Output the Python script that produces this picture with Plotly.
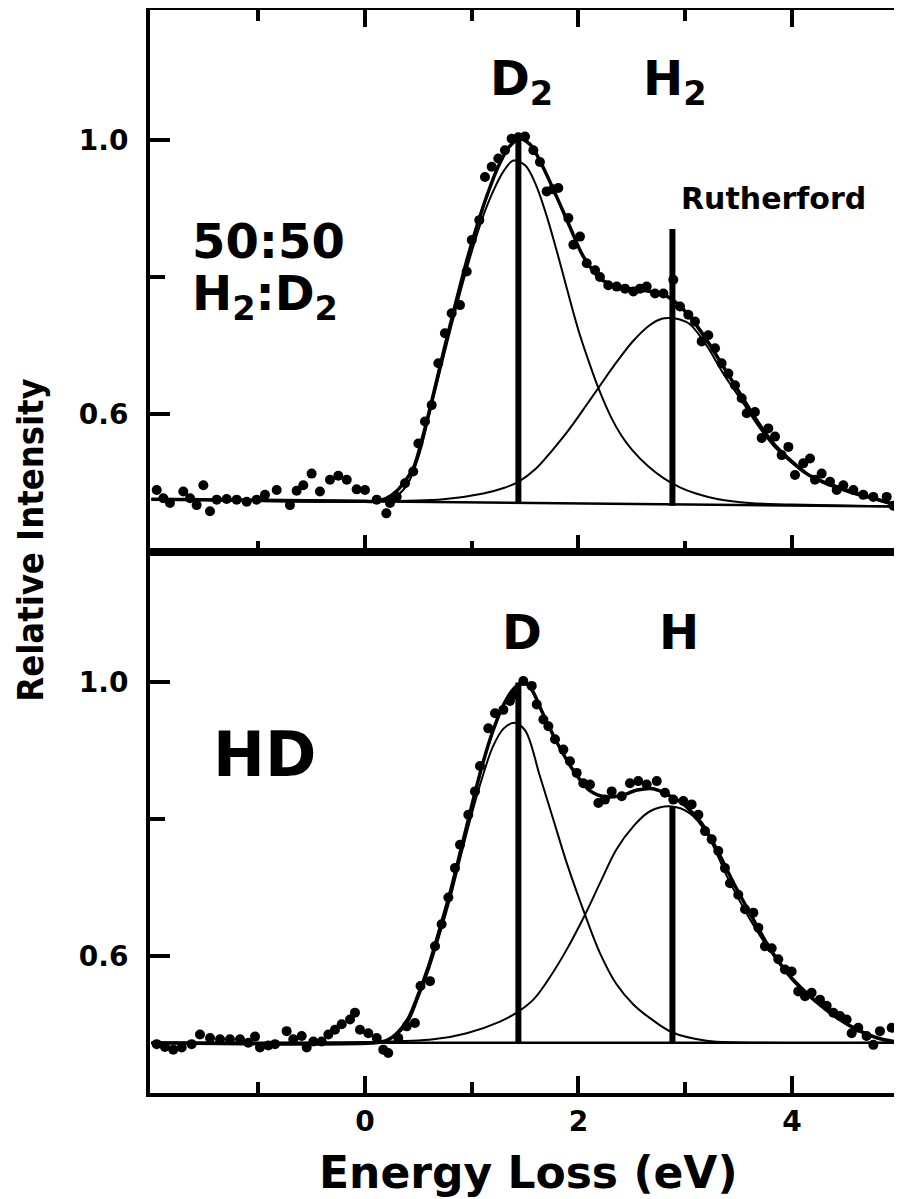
import plotly.graph_objects as go

# ---------------- data ----------------
# Top panel: 50:50 H2:D2
top_x = [-1.951, -1.889, -1.827, -1.702, -1.639, -1.577, -1.514, -1.452, -1.389, -1.296,
         -1.202, -1.108, -1.015, -0.937, -0.827, -0.703, -0.640, -0.578, -0.500, -0.422,
         -0.328, -0.250, -0.171, -0.078, 0.000, 0.110, 0.200, 0.234, 0.297, 0.375,
         0.452, 0.500, 0.562, 0.625, 0.687, 0.749, 0.812, 0.890, 0.953, 1.000,
         1.071, 1.124, 1.187, 1.249, 1.311, 1.374, 1.437, 1.499, 1.577, 1.639,
         1.702, 1.760, 1.811, 1.905, 1.952, 2.014, 2.077, 2.155, 2.201, 2.279,
         2.358, 2.436, 2.514, 2.576, 2.639, 2.717, 2.795, 2.888, 2.951, 3.029,
         3.091, 3.154, 3.216, 3.279, 3.341, 3.404, 3.466, 3.529, 3.576, 3.653,
         3.716, 3.778, 3.841, 3.903, 3.966, 4.028, 4.106, 4.169, 4.215, 4.278,
         4.356, 4.419, 4.481, 4.575, 4.668, 4.762, 4.887, 4.950]
top_y = [0.489, 0.477, 0.470, 0.487, 0.477, 0.467, 0.496, 0.458, 0.475, 0.476,
         0.475, 0.472, 0.475, 0.482, 0.489, 0.467, 0.488, 0.496, 0.513, 0.487,
         0.504, 0.510, 0.504, 0.490, 0.489, 0.475, 0.455, 0.470, 0.479, 0.499,
         0.516, 0.557, 0.589, 0.613, 0.674, 0.718, 0.747, 0.759, 0.808, 0.854,
         0.883, 0.946, 0.961, 0.973, 0.985, 1.002, 1.004, 1.005, 0.985, 0.968,
         0.925, 0.928, 0.930, 0.886, 0.847, 0.859, 0.820, 0.810, 0.800, 0.788,
         0.786, 0.783, 0.779, 0.783, 0.786, 0.776, 0.776, 0.796, 0.757, 0.745,
         0.735, 0.706, 0.715, 0.696, 0.674, 0.659, 0.642, 0.623, 0.601, 0.603,
         0.565, 0.579, 0.567, 0.540, 0.552, 0.511, 0.528, 0.535, 0.504, 0.513,
         0.501, 0.489, 0.496, 0.489, 0.482, 0.479, 0.479, 0.466]

top_fit_x = [-2.0, 0.0, 0.1, 0.2, 0.3, 0.36, 0.45, 0.55, 0.65, 0.75, 0.85, 0.95, 1.05,
             1.15, 1.25, 1.35, 1.45, 1.55, 1.65, 1.796, 1.92, 2.045, 2.201, 2.358,
             2.576, 2.763, 2.888, 3.044, 3.201, 3.357, 3.513, 3.669, 3.825, 3.981,
             4.138, 4.294, 4.45, 4.606, 4.762, 4.98]
top_fit_y = [0.4755, 0.4725, 0.4725, 0.477, 0.488, 0.499, 0.52, 0.572, 0.635, 0.70, 0.762,
             0.822, 0.875, 0.922, 0.962, 0.99, 1.002, 0.993, 0.966, 0.917, 0.873, 0.830,
             0.798, 0.786, 0.781, 0.776, 0.766, 0.742, 0.708, 0.669, 0.630, 0.591, 0.557,
             0.533, 0.513, 0.501, 0.492, 0.484, 0.477, 0.467]

top_d2_x = [-2.0, -0.5, 0.0, 0.2, 0.3, 0.4, 0.5, 0.6, 0.7, 0.8, 0.9, 1.0, 1.1, 1.2, 1.3,
            1.39, 1.5, 1.6, 1.7, 1.8, 1.9, 2.0, 2.1, 2.186, 2.3, 2.4, 2.5, 2.65, 2.8,
            2.95, 3.1, 3.3, 3.6, 4.0, 4.98]
top_d2_y = [0.4755, 0.472, 0.4725, 0.475, 0.481, 0.498, 0.537, 0.597, 0.661, 0.723, 0.782,
            0.837, 0.886, 0.925, 0.955, 0.970, 0.963, 0.935, 0.890, 0.836, 0.778, 0.722,
            0.675, 0.638, 0.597, 0.569, 0.548, 0.524, 0.506, 0.493, 0.484, 0.476, 0.470,
            0.468, 0.465]

top_h2_x = [-2.0, 0.0, 0.734, 1.108, 1.3, 1.437, 1.6, 1.733, 1.85, 1.952, 2.07, 2.186,
            2.358, 2.514, 2.67, 2.78, 2.857, 2.95, 3.044, 3.2, 3.357, 3.513, 3.669, 3.825,
            3.981, 4.138, 4.294, 4.45, 4.606, 4.762, 4.98]
top_h2_y = [0.4755, 0.4725, 0.4755, 0.484, 0.492, 0.501, 0.520, 0.543, 0.565, 0.586, 0.612,
            0.638, 0.676, 0.707, 0.730, 0.739, 0.740, 0.738, 0.731, 0.700, 0.659, 0.623,
            0.586, 0.554, 0.531, 0.512, 0.499, 0.490, 0.482, 0.476, 0.466]

top_base_x = [-2.0, 4.98]
top_base_y = [0.4755, 0.465]

top_stick_x = [1.437, 2.88]
top_stick_lo = [0.469, 0.466]
top_stick_hi = [1.0, 0.870]

# Bottom panel: HD
bot_x = [-1.951, -1.874, -1.796, -1.717, -1.624, -1.546, -1.452, -1.358, -1.265, -1.171,
         -1.093, -1.030, -0.984, -0.906, -0.843, -0.734, -0.672, -0.593, -0.546, -0.484,
         -0.406, -0.343, -0.281, -0.218, -0.140, -0.094, -0.047, 0.031, 0.110, 0.171,
         0.218, 0.312, 0.391, 0.468, 0.520, 0.609, 0.656, 0.718, 0.781, 0.843,
         0.890, 0.968, 1.030, 1.077, 1.155, 1.218, 1.296, 1.358, 1.405, 1.483,
         1.562, 1.609, 1.671, 1.718, 1.780, 1.858, 1.920, 1.983, 2.045, 2.108,
         2.186, 2.248, 2.311, 2.405, 2.482, 2.560, 2.639, 2.733, 2.810, 2.888,
         2.982, 3.060, 3.123, 3.185, 3.248, 3.310, 3.372, 3.419, 3.497, 3.560,
         3.638, 3.685, 3.747, 3.810, 3.872, 3.934, 3.997, 4.059, 4.122, 4.184,
         4.262, 4.325, 4.387, 4.450, 4.512, 4.559, 4.621, 4.699, 4.762, 4.824, 4.934]
bot_y = [0.472, 0.468, 0.464, 0.467, 0.472, 0.486, 0.481, 0.479, 0.479, 0.479,
         0.474, 0.483, 0.467, 0.470, 0.472, 0.491, 0.479, 0.484, 0.467, 0.476,
         0.476, 0.486, 0.493, 0.501, 0.508, 0.518, 0.493, 0.488, 0.481, 0.464,
         0.459, 0.481, 0.498, 0.503, 0.557, 0.564, 0.615, 0.647, 0.686, 0.729,
         0.763, 0.807, 0.841, 0.878, 0.933, 0.955, 0.960, 0.973, 0.982, 1.002,
         0.995, 0.968, 0.946, 0.936, 0.917, 0.902, 0.885, 0.868, 0.853, 0.851,
         0.824, 0.829, 0.841, 0.834, 0.853, 0.856, 0.851, 0.856, 0.839, 0.829,
         0.827, 0.822, 0.807, 0.783, 0.771, 0.754, 0.729, 0.707, 0.690, 0.669,
         0.664, 0.642, 0.615, 0.612, 0.596, 0.581, 0.578, 0.549, 0.542, 0.547,
         0.537, 0.528, 0.518, 0.513, 0.508, 0.488, 0.496, 0.484, 0.471, 0.491, 0.496]

bot_fit_x = [-2.0, 0.1, 0.2, 0.3, 0.4, 0.5, 0.6, 0.7, 0.8, 0.9, 1.0, 1.1, 1.2, 1.3, 1.4,
             1.48, 1.56, 1.65, 1.8, 1.95, 2.1, 2.25, 2.4, 2.55, 2.7, 2.85, 3.0, 3.15, 3.3,
             3.45, 3.6, 3.8, 4.0, 4.2, 4.4, 4.6, 4.8, 4.98]
bot_fit_y = [0.474, 0.474, 0.477, 0.488, 0.508, 0.545, 0.588, 0.640, 0.695, 0.757, 0.820,
             0.880, 0.930, 0.968, 0.992, 1.000, 0.990, 0.960, 0.912, 0.872, 0.843, 0.833,
             0.835, 0.843, 0.845, 0.835, 0.820, 0.795, 0.755, 0.708, 0.665, 0.610, 0.568,
             0.538, 0.513, 0.494, 0.481, 0.475]

bot_d_x = [-2.0, 0.0, 0.2, 0.3, 0.4, 0.5, 0.6, 0.7, 0.8, 0.9, 1.0, 1.1, 1.2, 1.3, 1.405,
           1.5, 1.639, 1.764, 1.889, 2.061, 2.201, 2.358, 2.514, 2.67, 2.88, 3.2, 3.5, 4.98]
bot_d_y = [0.474, 0.4745, 0.477, 0.486, 0.503, 0.540, 0.582, 0.632, 0.686, 0.748, 0.808,
           0.862, 0.907, 0.933, 0.941, 0.930, 0.863, 0.800, 0.737, 0.661, 0.605, 0.559,
           0.530, 0.510, 0.489, 0.477, 0.4745, 0.474]

bot_h_x = [-2.0, 0.0, 0.64, 0.953, 1.265, 1.421, 1.577, 1.733, 1.889, 2.061, 2.201, 2.358,
           2.514, 2.67, 2.873, 3.044, 3.2, 3.4, 3.6, 3.8, 4.0, 4.2, 4.4, 4.6, 4.8, 4.98]
bot_h_y = [0.474, 0.475, 0.479, 0.488, 0.505, 0.518, 0.537, 0.570, 0.610, 0.661, 0.707,
           0.757, 0.790, 0.812, 0.819, 0.809, 0.780, 0.714, 0.656, 0.607, 0.566, 0.536,
           0.512, 0.493, 0.481, 0.475]

bot_base_x = [-2.0, 4.98]
bot_base_y = [0.474, 0.474]

bot_stick_x = [1.437, 2.88]
bot_stick_lo = [0.474, 0.474]
bot_stick_hi = [1.0, 0.819]

x_ticks = [0, 2, 4]
x_minor = [-1, 0, 1, 2, 3, 4]
y_ticks = [0.6, 1.0]
y_tick_text = ["0.6", "1.0"]
y_minor = [0.8]

FONT = "DejaVu Sans"
COND = "DejaVu Sans Condensed, DejaVu Sans, sans-serif"
BLACK = "black"

fig = go.Figure()

def add_panel(xa, ya, base_x, base_y, comp1, comp2, fit, sticks, pts):
    fig.add_trace(go.Scatter(x=base_x, y=base_y, mode="lines", xaxis=xa, yaxis=ya,
                             line=dict(color=BLACK, width=2.5), showlegend=False))
    for cx, cy in (comp1, comp2):
        fig.add_trace(go.Scatter(x=cx, y=cy, mode="lines", xaxis=xa, yaxis=ya,
                                 line=dict(color=BLACK, width=2, shape="spline", smoothing=1.0),
                                 showlegend=False))
    fig.add_trace(go.Scatter(x=fit[0], y=fit[1], mode="lines", xaxis=xa, yaxis=ya,
                             line=dict(color=BLACK, width=3.5, shape="spline", smoothing=0.9),
                             showlegend=False))
    sx, lo, hi = sticks
    for i in range(len(sx)):
        fig.add_trace(go.Scatter(x=[sx[i], sx[i]], y=[lo[i], hi[i]], mode="lines",
                                 xaxis=xa, yaxis=ya, line=dict(color=BLACK, width=6),
                                 showlegend=False))
    fig.add_trace(go.Scatter(x=pts[0], y=pts[1], mode="markers", xaxis=xa, yaxis=ya,
                             marker=dict(color=BLACK, size=10, line=dict(width=0)),
                             showlegend=False))

add_panel("x", "y", top_base_x, top_base_y, (top_d2_x, top_d2_y), (top_h2_x, top_h2_y),
          (top_fit_x, top_fit_y), (top_stick_x, top_stick_lo, top_stick_hi), (top_x, top_y))
add_panel("x2", "y2", bot_base_x, bot_base_y, (bot_d_x, bot_d_y), (bot_h_x, bot_h_y),
          (bot_fit_x, bot_fit_y), (bot_stick_x, bot_stick_lo, bot_stick_hi), (bot_x, bot_y))

xr = [-2.014, 4.965]
tickfont = dict(family=FONT, size=28, color=BLACK, weight="bold")
common_x = dict(range=xr, showgrid=False, zeroline=False, showline=True, linecolor=BLACK,
                linewidth=4, ticks="inside", ticklen=17, tickwidth=4, tickcolor=BLACK,
                tickvals=x_ticks, automargin=False, tickfont=tickfont,
                minor=dict(tickvals=x_minor, ticks="inside", ticklen=11, tickwidth=4,
                           tickcolor=BLACK, showgrid=False))
common_y = dict(showgrid=False, zeroline=False, showline=True, linecolor=BLACK,
                linewidth=4, mirror=True, ticks="inside", ticklen=20, tickwidth=4,
                tickcolor=BLACK, tickvals=y_ticks, ticktext=y_tick_text, automargin=False,
                tickfont=tickfont, ticklabelstandoff=12,
                minor=dict(tickvals=y_minor, ticks="inside", ticklen=15, tickwidth=4,
                           tickcolor=BLACK, showgrid=False))

fig.update_layout(
    template="none",
    width=902, height=1199,
    margin=dict(l=142, r=15, t=2, b=114, autoexpand=False),
    paper_bgcolor="white", plot_bgcolor="white",
    font=dict(family=FONT, size=28, color=BLACK, weight="bold"),
    showlegend=False,
    xaxis=dict(**common_x, anchor="y", mirror="ticks", showticklabels=False),
    yaxis=dict(**common_y, anchor="x", domain=[0.5, 1.0], range=[0.3993, 1.1898]),
    xaxis2=dict(**common_x, anchor="y2", mirror=True, showticklabels=True),
    yaxis2=dict(**common_y, anchor="x2", domain=[0.0, 0.5], range=[0.4007, 1.1912]),
)

ann = []
def a(text, x, y, xref, yref, size, xanchor="left", yanchor="middle", angle=0, family=FONT):
    ann.append(dict(text=text, x=x, y=y, xref=xref, yref=yref, showarrow=False,
                    xanchor=xanchor, yanchor=yanchor, textangle=angle,
                    font=dict(family=family, size=size, color=BLACK, weight="bold")))

a("D<sub>2</sub>", 1.155, 1.085, "x", "y", 48)
a("H<sub>2</sub>", 2.584, 1.085, "x", "y", 48)
a("Rutherford", 2.94, 0.915, "x", "y", 30)
a("50:50", -1.64, 0.852, "x", "y", 48)
a("H<sub>2</sub>:D<sub>2</sub>", -1.64, 0.772, "x", "y", 48)
a("D", 1.471, 1.074, "x2", "y2", 48, xanchor="center")
a("H", 2.937, 1.074, "x2", "y2", 48, xanchor="center")
a("HD", -1.44, 0.895, "x2", "y2", 62)
a("Relative Intensity", -0.1597, 0.510, "paper", "paper", 36, xanchor="center", angle=-90,
  family=COND)
a("Energy Loss (eV)", 0.5087, -0.073, "paper", "paper", 44, xanchor="center")
fig.update_layout(annotations=ann)

fig.write_html("out.html")
